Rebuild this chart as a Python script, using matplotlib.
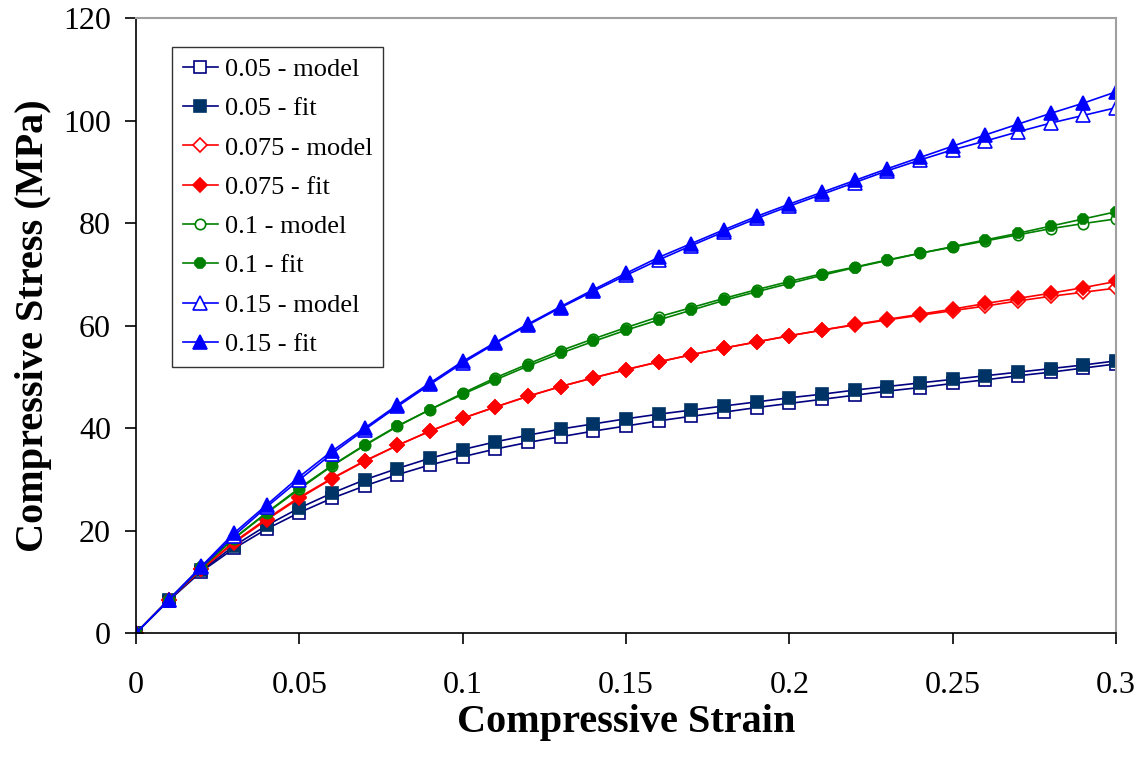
import matplotlib.pyplot as plt
import numpy as np

plt.rcParams['font.family'] = ['Liberation Serif', 'DejaVu Serif']

strain = [0.00, 0.01, 0.02, 0.03, 0.04, 0.05, 0.06, 0.07, 0.08, 0.09, 0.10,
          0.11, 0.12, 0.13, 0.14, 0.15, 0.16, 0.17, 0.18, 0.19, 0.20,
          0.21, 0.22, 0.23, 0.24, 0.25, 0.26, 0.27, 0.28, 0.29, 0.30]

s005_model = [0, 6.3, 12.0, 16.5, 20.3, 23.5, 26.3, 28.7, 30.9, 32.8, 34.4,
              35.9, 37.2, 38.3, 39.4, 40.4, 41.4, 42.3, 43.1, 44.0, 44.8,
              45.6, 46.4, 47.2, 47.9, 48.7, 49.4, 50.2, 50.9, 51.7, 52.5]
s005_fit = [0, 6.4, 12.2, 17.0, 21.0, 24.4, 27.3, 29.9, 32.1, 34.1, 35.8,
            37.3, 38.6, 39.8, 40.8, 41.8, 42.7, 43.5, 44.3, 45.1, 45.9,
            46.6, 47.4, 48.1, 48.8, 49.5, 50.2, 50.9, 51.6, 52.3, 53.1]
s0075_model = [0, 6.4, 12.4, 17.6, 22.1, 26.3, 30.1, 33.5, 36.6, 39.4, 41.9,
               44.1, 46.2, 48.1, 49.8, 51.4, 52.9, 54.3, 55.6, 56.8, 58.0,
               59.1, 60.1, 61.1, 62.0, 62.9, 63.8, 64.8, 65.7, 66.5, 67.3]
s0075_fit = [0, 6.5, 12.5, 17.8, 22.3, 26.5, 30.2, 33.6, 36.6, 39.4, 41.9,
             44.1, 46.2, 48.1, 49.8, 51.4, 52.9, 54.3, 55.6, 56.8, 58.0,
             59.1, 60.2, 61.2, 62.2, 63.2, 64.3, 65.3, 66.3, 67.4, 68.6]
s01_model = [0, 6.4, 12.7, 18.4, 23.4, 28.1, 32.6, 36.6, 40.3, 43.6, 46.8,
             49.8, 52.5, 55.1, 57.4, 59.6, 61.7, 63.5, 65.3, 67.0, 68.6,
             70.1, 71.4, 72.8, 74.1, 75.3, 76.5, 77.7, 78.9, 79.9, 80.8]
s01_fit = [0, 6.5, 12.8, 18.5, 23.5, 28.3, 32.7, 36.7, 40.4, 43.6, 46.6,
           49.4, 52.1, 54.6, 56.9, 59.1, 61.1, 63.0, 64.9, 66.6, 68.2,
           69.8, 71.3, 72.7, 74.1, 75.4, 76.7, 78.0, 79.4, 80.8, 82.2]
s015_model = [0, 6.4, 12.8, 19.0, 24.6, 29.9, 35.0, 39.7, 44.2, 48.5, 52.7,
              56.5, 60.1, 63.5, 66.7, 69.8, 72.8, 75.6, 78.3, 80.9, 83.3,
              85.6, 87.9, 90.2, 92.3, 94.3, 96.0, 97.8, 99.5, 101.0, 102.5]
s015_fit = [0, 6.5, 13.0, 19.5, 25.0, 30.5, 35.5, 40.0, 44.5, 48.8, 53.0,
            56.7, 60.3, 63.7, 67.0, 70.2, 73.3, 76.0, 78.7, 81.3, 83.7,
            86.0, 88.3, 90.6, 92.8, 95.0, 97.2, 99.3, 101.4, 103.4, 105.6]

series = [
    ("0.05 - model", s005_model, "#000080", "s", "white", 8),
    ("0.05 - fit", s005_fit, "#000080", "s", "#003366", 8.5),
    ("0.075 - model", s0075_model, "#FF0000", "D", "white", 7),
    ("0.075 - fit", s0075_fit, "#FF0000", "D", "#FF0000", 7),
    ("0.1 - model", s01_model, "#008000", "o", "white", 7.5),
    ("0.1 - fit", s01_fit, "#008000", "8", "#008000", 8.5),
    ("0.15 - model", s015_model, "#0000FF", "^", "white", 9.5),
    ("0.15 - fit", s015_fit, "#0000FF", "^", "#0000FF", 9.5),
]

fig = plt.figure(figsize=(11.41, 7.66), dpi=100)
ax = fig.add_axes([0.1192, 0.1736, 0.8590, 0.8029])

for name, vals, col, mk, face, ms in series:
    edge = "#003366" if name == "0.05 - fit" else col
    ax.plot(strain, vals, color=col, lw=1.2, marker=mk, markersize=ms,
            markerfacecolor=face, markeredgecolor=edge, markeredgewidth=1.2,
            label=name)

ax.set_xlim(0, 0.3)
ax.set_ylim(0, 120)
ax.set_xticks(np.arange(0, 0.301, 0.05))
ax.set_xticklabels(["0", "0.05", "0.1", "0.15", "0.2", "0.25", "0.3"])
ax.set_yticks(range(0, 121, 20))
ax.tick_params(axis="both", direction="out", length=8, width=1.2,
               labelsize=23, colors="black")
ax.tick_params(axis="x", pad=19)
ax.tick_params(axis="y", pad=10)

ax.spines["left"].set_color("black")
ax.spines["bottom"].set_color("black")
ax.spines["left"].set_linewidth(1.2)
ax.spines["bottom"].set_linewidth(1.2)
ax.spines["right"].set_color("#A0A0A0")
ax.spines["top"].set_color("#A0A0A0")
ax.spines["right"].set_linewidth(1.5)
ax.spines["top"].set_linewidth(1.5)

ax.set_xlabel("Compressive Strain", fontsize=29, fontweight="bold", labelpad=3)
ax.set_ylabel("Compressive Stress (MPa)", fontsize=29, fontweight="bold", labelpad=8)

leg = ax.legend(loc="upper left", bbox_to_anchor=(0.0367, 0.953), fontsize=19,
                frameon=True, fancybox=False, edgecolor="black",
                handlelength=1.35, handletextpad=0.25, labelspacing=0.6,
                borderpad=0.4, borderaxespad=0)
leg.get_frame().set_linewidth(1.0)

plt.savefig("out.png", dpi=100)
plt.close()
